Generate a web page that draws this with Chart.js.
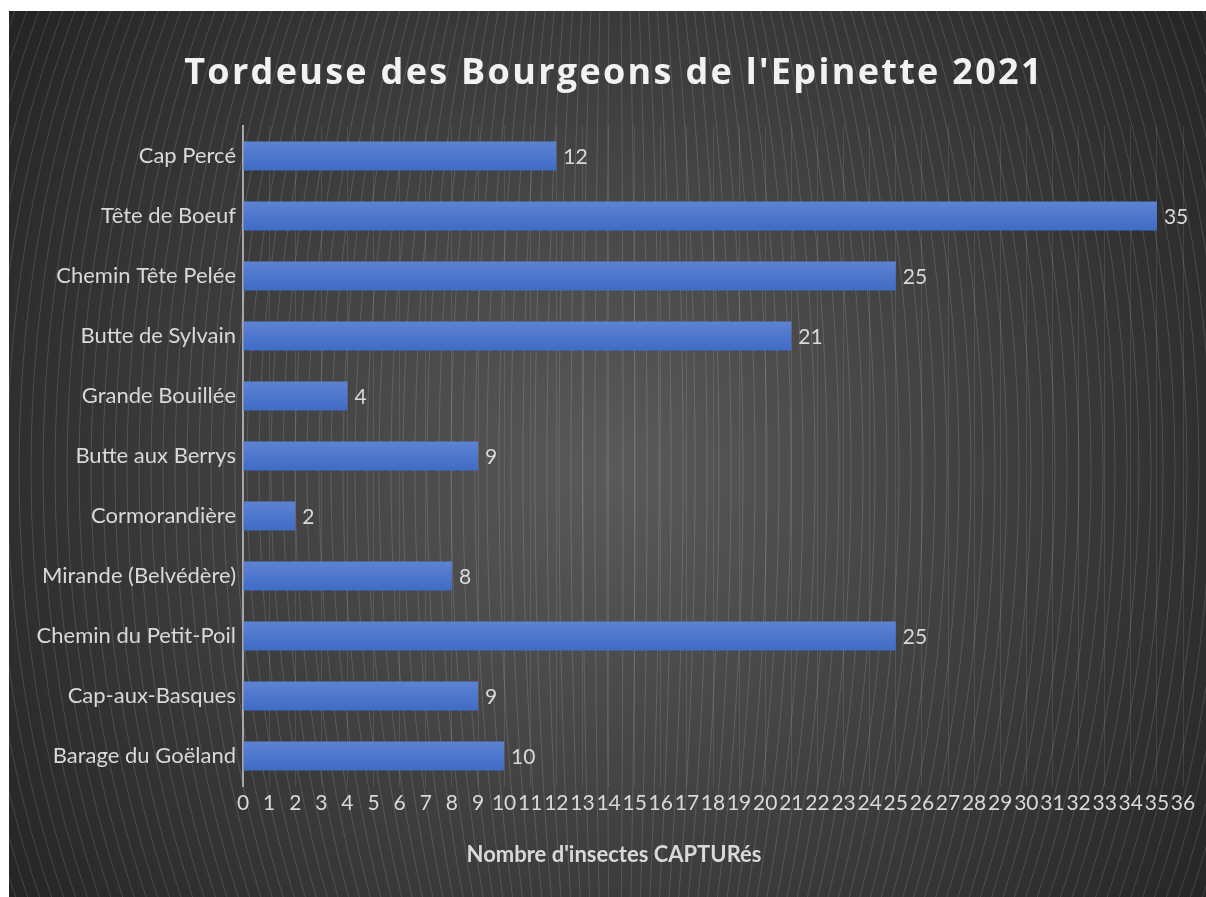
<!DOCTYPE html>
<html>
<head>
<meta charset="utf-8">
<script src="https://cdn.jsdelivr.net/npm/chart.js@4.4.1/dist/chart.umd.min.js"></script>
<style>
  html, body { margin: 0; padding: 0; background: #ffffff; overflow: hidden; }
  canvas { display: block; }
</style>
</head>
<body>
<canvas id="grafico" width="1206" height="897"></canvas>
<script>
const titulo = "Tordeuse des Bourgeons de l'Epinette 2021";
const tituloEje = "Nombre d'insectes CAPTURés";
const sitios = ['Cap Percé', 'Tête de Boeuf', 'Chemin Tête Pelée', 'Butte de Sylvain', 'Grande Bouillée',
  'Butte aux Berrys', 'Cormorandière', 'Mirande (Belvédère)', 'Chemin du Petit-Poil', 'Cap-aux-Basques',
  'Barage du Goëland'];
const capturas = [12, 35, 25, 21, 4, 9, 2, 8, 25, 9, 10];
const ejeMin = 0;
const ejeMax = 36;
const paso = 1;

const colorTexto = '#d9d9d9';
const fuente = 'Lato';

Chart.defaults.font.family = fuente;

// fondo oscuro con degradado radial y elipses finas, mas los titulos
const fondo = {
  id: 'fondo',
  beforeDraw(chart) {
    const ctx = chart.ctx;
    const cx = 615, cy = 470;
    ctx.save();
    ctx.fillStyle = '#ffffff';
    ctx.fillRect(0, 0, chart.width, chart.height);

    ctx.beginPath();
    ctx.rect(9, 11, chart.width - 9, chart.height - 11);
    ctx.clip();
    let g = ctx.createRadialGradient(cx, cy, 0, cx, cy, 770);
    g.addColorStop(0, '#5a5a5a');
    g.addColorStop(1, '#232323');
    ctx.fillStyle = g;
    ctx.fillRect(0, 0, chart.width, chart.height);

    ctx.strokeStyle = 'rgba(255,255,255,0.2)';
    ctx.lineWidth = 0.7;
    const c = 700;
    for (let b = 8; b < 1150; b += 12) {
      ctx.beginPath();
      ctx.ellipse(cx, cy, b, Math.sqrt(b * b + c * c), 0, 0, Math.PI * 2);
      ctx.stroke();
    }
    ctx.restore();

    ctx.save();
    ctx.fillStyle = '#f2f2f2';
    ctx.font = 'bold 36px "Open Sans"';
    ctx.letterSpacing = '2.3px';
    ctx.textAlign = 'center';
    ctx.textBaseline = 'alphabetic';
    ctx.fillText(titulo, 614, 84);

    ctx.letterSpacing = '0px';
    ctx.fillStyle = colorTexto;
    ctx.font = 'bold 22px ' + fuente;
    ctx.fillText(tituloEje, 614, 862);
    ctx.restore();
  }
};

// etiquetas de valor a la derecha de cada barra
const etiquetas = {
  id: 'etiquetas',
  afterDatasetsDraw(chart) {
    const ctx = chart.ctx;
    const meta = chart.getDatasetMeta(0);
    ctx.save();
    ctx.fillStyle = colorTexto;
    ctx.font = '21px ' + fuente;
    ctx.textAlign = 'left';
    ctx.textBaseline = 'middle';
    meta.data.forEach((barra, i) => {
      ctx.fillText(String(capturas[i]), barra.x + 7, barra.y + 1);
    });
    ctx.restore();
  }
};

function colorBarra(context) {
  const chart = context.chart;
  const escalaY = chart.scales.y;
  if (!chart.chartArea || !escalaY) return '#4a74c9';
  const y = escalaY.getPixelForValue(context.dataIndex);
  const g = chart.ctx.createLinearGradient(0, y - 15, 0, y + 15);
  g.addColorStop(0, '#5d83d3');
  g.addColorStop(1, '#3f6bc6');
  return g;
}

new Chart(document.getElementById('grafico'), {
  type: 'bar',
  data: {
    labels: sitios,
    datasets: [{
      data: capturas,
      backgroundColor: colorBarra,
      borderWidth: 0,
      categoryPercentage: 1,
      barPercentage: 0.483
    }]
  },
  options: {
    indexAxis: 'y',
    responsive: false,
    animation: false,
    devicePixelRatio: 1,
    layout: { padding: { top: 126, right: 23, bottom: 41, left: 9 } },
    plugins: {
      legend: { display: false },
      tooltip: { enabled: false },
      title: { display: false }
    },
    scales: {
      x: {
        min: ejeMin,
        max: ejeMax,
        ticks: {
          stepSize: paso,
          autoSkip: false,
          maxRotation: 0,
          color: colorTexto,
          font: { size: 21 },
          padding: 5
        },
        grid: { color: 'rgba(255,255,255,0.10)', drawTicks: false },
        border: { display: false },
        afterFit(escala) { escala.height = 70; }
      },
      y: {
        ticks: {
          color: colorTexto,
          font: { size: 22 },
          padding: 7
        },
        grid: { display: false, drawTicks: false },
        border: { color: '#a6a6a6', width: 2 },
        afterFit(escala) { escala.width = 234; }
      }
    }
  },
  plugins: [fondo, etiquetas]
});
</script>
</body>
</html>
